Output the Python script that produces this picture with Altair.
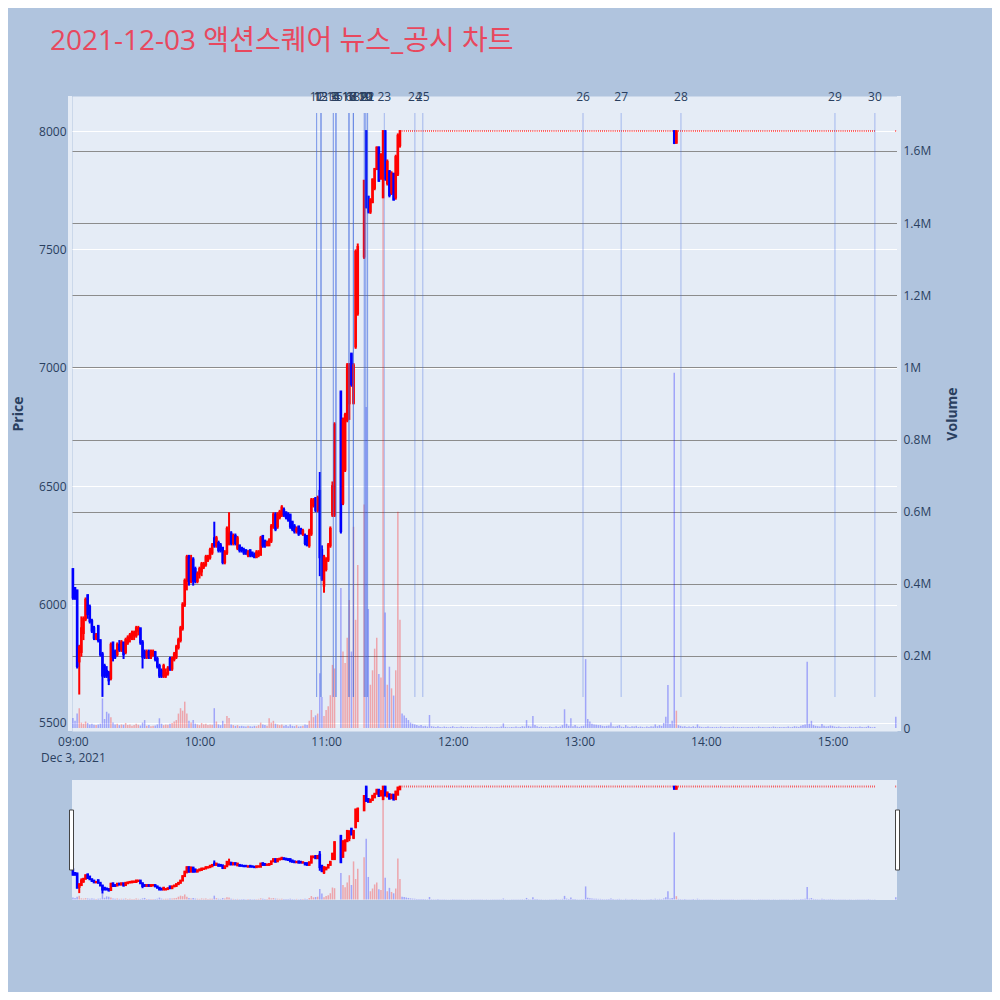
import altair as alt
import pandas as pd

TITLE = "2021-12-03 액션스퀘어 뉴스_공시 차트"
DATE = "2021-12-03"

# ---- traded minutes before the upper-limit lock (minutes after 09:00) ----
act_min = list(range(0, 125)) + list(range(127, 136)) + list(range(138, 156))
act_open = [
    6150, 6070, 6060, 5760, 5800, 5880, 5940, 6040, 5990, 5930,
    5900, 5860, 5910, 5850, 5790, 5740, 5720, 5710, 5690, 5840,
    5800, 5790, 5830, 5810, 5840, 5800, 5840, 5860, 5860, 5870,
    5870, 5890, 5900, 5840, 5800, 5780, 5800, 5780, 5790, 5800,
    5770, 5740, 5720, 5700, 5700, 5710, 5770, 5730, 5770, 5780,
    5820, 5850, 5900, 6000, 6100, 6200, 6100, 6190, 6150, 6100,
    6130, 6140, 6160, 6170, 6190, 6200, 6220, 6280, 6250, 6260,
    6250, 6240, 6180, 6220, 6260, 6300, 6260, 6290, 6240, 6250,
    6240, 6230, 6230, 6210, 6230, 6220, 6210, 6200, 6210, 6210,
    6290, 6270, 6250, 6250, 6270, 6330, 6380, 6330, 6370, 6380,
    6400, 6390, 6380, 6380, 6350, 6330, 6310, 6330, 6320, 6300,
    6290, 6290, 6250, 6300, 6420, 6450, 6400, 6480, 6230, 6080,
    6150, 6190, 6250, 6380, 6380,
    6900, 6430, 6570, 6780, 6850, 7060, 6850, 7090, 7230,
    7470, 8000, 7723, 7660, 7700, 7760, 7840, 7930, 7800, 7720,
    8000, 7780, 7830, 7740, 7820, 7720, 7820, 7940,
]
act_high = [
    6150, 6070, 6060, 5830, 5950, 5950, 6030, 6040, 6000, 5940,
    5910, 5880, 5910, 5850, 5800, 5750, 5740, 5720, 5840, 5840,
    5810, 5840, 5850, 5850, 5840, 5860, 5870, 5880, 5890, 5890,
    5910, 5910, 5900, 5850, 5810, 5810, 5810, 5810, 5810, 5800,
    5780, 5750, 5730, 5750, 5730, 5740, 5780, 5780, 5800, 5830,
    5860, 5910, 6010, 6110, 6210, 6210, 6210, 6200, 6160, 6140,
    6160, 6180, 6180, 6210, 6210, 6240, 6260, 6350, 6290, 6270,
    6260, 6240, 6230, 6330, 6390, 6310, 6300, 6300, 6290, 6250,
    6240, 6240, 6230, 6230, 6230, 6220, 6220, 6230, 6230, 6290,
    6290, 6270, 6270, 6280, 6340, 6390, 6390, 6390, 6400, 6420,
    6410, 6390, 6390, 6380, 6350, 6340, 6330, 6330, 6320, 6320,
    6300, 6290, 6320, 6450, 6450, 6450, 6460, 6560, 6250, 6210,
    6200, 6260, 6330, 6520, 6770,
    6900, 6790, 6810, 7020, 7020, 7060, 7020, 7500, 7525,
    7793, 8000, 7725, 7716, 7800, 7842, 7935, 7935, 7906, 8000,
    8000, 7880, 7835, 7830, 7821, 7900, 7990, 8000,
]
act_low = [
    6020, 6020, 5730, 5620, 5780, 5850, 5930, 5940, 5920, 5880,
    5850, 5850, 5840, 5780, 5610, 5690, 5690, 5660, 5680, 5760,
    5770, 5780, 5800, 5800, 5770, 5790, 5830, 5840, 5850, 5850,
    5860, 5870, 5830, 5730, 5770, 5770, 5770, 5770, 5780, 5760,
    5730, 5690, 5690, 5690, 5690, 5700, 5720, 5720, 5760, 5770,
    5810, 5840, 5890, 5990, 6060, 6080, 6090, 6080, 6090, 6090,
    6110, 6120, 6150, 6160, 6180, 6190, 6210, 6240, 6240, 6220,
    6220, 6170, 6170, 6210, 6250, 6250, 6250, 6250, 6230, 6220,
    6220, 6210, 6210, 6200, 6200, 6200, 6200, 6200, 6200, 6210,
    6240, 6240, 6250, 6250, 6260, 6320, 6310, 6320, 6360, 6370,
    6370, 6360, 6350, 6320, 6310, 6300, 6300, 6290, 6300, 6290,
    6250, 6250, 6240, 6290, 6410, 6390, 6390, 6120, 6100, 6050,
    6140, 6180, 6240, 6370, 6370,
    6300, 6420, 6560, 6770, 6780, 6920, 6850, 7080, 7220,
    7460, 7673, 7652, 7650, 7695, 7750, 7835, 7786, 7795, 7720,
    7790, 7770, 7720, 7730, 7708, 7710, 7810, 7930,
]
act_close = [
    6030, 6030, 5740, 5820, 5900, 5940, 6020, 5960, 5930, 5890,
    5860, 5870, 5850, 5790, 5700, 5700, 5700, 5680, 5830, 5780,
    5780, 5830, 5810, 5840, 5790, 5850, 5860, 5870, 5880, 5880,
    5900, 5900, 5840, 5780, 5780, 5800, 5780, 5800, 5800, 5770,
    5740, 5700, 5700, 5740, 5710, 5730, 5730, 5770, 5790, 5820,
    5850, 5900, 6000, 6100, 6200, 6100, 6190, 6100, 6100, 6130,
    6150, 6170, 6170, 6200, 6200, 6230, 6250, 6250, 6280, 6230,
    6230, 6180, 6220, 6320, 6300, 6260, 6290, 6260, 6280, 6230,
    6230, 6220, 6220, 6220, 6210, 6210, 6200, 6220, 6220, 6280,
    6250, 6250, 6260, 6270, 6330, 6380, 6320, 6380, 6390, 6410,
    6380, 6370, 6360, 6330, 6320, 6310, 6320, 6300, 6300, 6310,
    6260, 6250, 6310, 6440, 6440, 6400, 6450, 6200, 6110, 6200,
    6190, 6250, 6320, 6500, 6760,
    6310, 6780, 6800, 7010, 7000, 6930, 7010, 7490, 7510,
    7790, 7680, 7660, 7710, 7795, 7840, 7930, 7790, 7900, 8000,
    7800, 7870, 7730, 7820, 7710, 7890, 7980, 8000,
]
act_vol_k = [
    28, 20, 40, 55, 15, 12, 18, 14, 10, 12,
    9, 8, 10, 12, 82, 25, 45, 40, 30, 15,
    10, 12, 8, 10, 9, 14, 8, 10, 6, 8,
    12, 9, 7, 15, 22, 6, 8, 5, 6, 7,
    10, 27, 12, 8, 10, 9, 12, 14, 18, 22,
    40, 55, 48, 73, 40, 20, 15, 22, 12, 10,
    8, 14, 10, 12, 8, 10, 9, 55, 18, 10,
    8, 20, 12, 33, 28, 10, 8, 6, 8, 5,
    6, 5, 4, 6, 5, 4, 6, 5, 8, 15,
    10, 8, 6, 27, 15, 20, 12, 10, 8, 10,
    6, 8, 5, 10, 6, 5, 8, 4, 5, 6,
    10, 8, 20, 50, 30, 35, 40, 152, 86, 33,
    50, 60, 91, 175, 165,
    388, 212, 180, 250, 355, 212, 558, 300, 452,
    620, 890, 330, 120, 160, 220, 250, 150, 140, 1640,
    320, 120, 170, 110, 90, 160, 600, 300,
]

# ---- locked at the upper limit (8000) from 11:36 to 15:20 ----
lock_first, lock_last, lock_price = 156, 380, 8000
lock_vol_k = [
    40, 35, 28, 22, 15, 12, 10, 8, 6, 8, 5, 6, 4, 36, 5,
    4, 3, 5, 3, 2, 4, 3, 2, 3, 5, 2, 3, 2, 4, 3,
    2, 3, 2, 4, 2, 3, 2, 2, 3, 2, 4, 2, 3, 2, 2,
    3, 2, 4, 13, 3, 2, 2, 3, 2, 4, 2, 3, 5, 4, 22,
    6, 4, 33, 8, 5, 3, 4, 2, 3, 2, 4, 3, 2, 5, 3,
    4, 8, 52, 12, 6, 27, 5, 8, 4, 3, 5, 6, 191, 25, 18,
    12, 10, 9, 8, 8, 6, 5, 6, 7, 15, 5, 4, 6, 8, 4,
    3, 8, 4, 3, 5, 4, 6, 3, 4, 3, 2, 4, 3, 5, 4,
    10, 5, 8, 6, 14, 31, 119, 12, 20, 985, 48, 8, 6, 4, 5,
    3, 4, 3, 5, 3, 10, 4, 3, 2, 3, 4, 2, 3, 2, 3,
    2, 4, 2, 3, 2, 3, 2, 4, 2, 3, 2, 3, 2, 2, 3,
    2, 3, 2, 2, 4, 2, 3, 2, 2, 3, 2, 4, 3, 2, 3,
    2, 3, 2, 4, 2, 3, 5, 4, 3, 6, 8, 10, 184, 12, 20,
    8, 6, 5, 4, 11, 6, 4, 5, 7, 6, 4, 3, 4, 3, 2,
    3, 2, 4, 3, 2, 3, 2, 4, 3, 2, 3, 6, 3, 2, 3,
]
# the two minutes that briefly broke the lock
brk_min = [285, 286]
brk_open = [8000, 7950]
brk_high = [8000, 8000]
brk_low = [7945, 7950]
brk_close = [7950, 8000]
# closing auction
close_min, close_price, close_vol_k = 390, 8000, 31

# ---- news / disclosure markers ----
news_label = [str(i) for i in range(1, 31)]
news_time = [
    "10:55:30", "10:57:35", "11:03:25", "11:04:40", "11:04:40", "11:10:50",
    "11:12:55", "11:12:55", "11:18:05", "11:18:50", "10:55:30", "10:57:35",
    "10:57:35", "11:03:25", "11:04:40", "11:10:50", "11:10:50", "11:12:55",
    "11:18:05", "11:18:50", "11:19:40", "11:19:40", "11:27:35", "11:42:05",
    "11:45:50", "13:01:45", "13:19:50", "13:48:10", "15:01:10", "15:20:05",
]

price_ticks = [5500, 6000, 6500, 7000, 7500, 8000]
vol_ticks = [0, 200000, 400000, 600000, 800000, 1000000, 1200000, 1400000, 1600000]
hour_ticks = [9, 10, 11, 12, 13, 14, 15]


def ts(m):
    return f"{DATE}T{9 + m // 60:02d}:{m % 60:02d}:00"


rows = []
for i, m in enumerate(act_min):
    rows.append((m, act_open[i], act_high[i], act_low[i], act_close[i], act_vol_k[i]))
for i, m in enumerate(range(lock_first, lock_last + 1)):
    rows.append((m, lock_price, lock_price, lock_price, lock_price, lock_vol_k[i]))
rows.append((close_min, close_price, close_price, close_price, close_price, close_vol_k))
df = pd.DataFrame(rows, columns=["m", "o", "h", "l", "c", "vk"])
for i, m in enumerate(brk_min):
    sel = df["m"] == m
    df.loc[sel, ["o", "h", "l", "c"]] = [brk_open[i], brk_high[i], brk_low[i], brk_close[i]]
df = df.sort_values("m").reset_index(drop=True)
df["t"] = [ts(m) for m in df["m"]]
df["v"] = df["vk"] * 1000
prev = df["c"].shift(1).fillna(df["c"])
df["cdir"] = [
    "up" if c > o else ("down" if c < o else ("up" if c >= p else "down"))
    for o, c, p in zip(df["o"], df["c"], prev)
]
df["vdir"] = ["up" if c > o else "down" for o, c in zip(df["o"], df["c"])]

news = pd.DataFrame({"t": [f"{DATE}T{t}" for t in news_time], "label": news_label})

# ---------------- layout ----------------
W, H = 825, 635
FONT = "Open Sans"
TXT = "#2a3f5f"
P_DOM = [5466, 8148]
V_DOM = [-8300, 1752500]
S_TOP, S_BOT = 684, 804

xscale = alt.Scale(
    domain=[alt.DateTime(year=2021, month=12, date=3, hours=8, minutes=59, seconds=34),
            alt.DateTime(year=2021, month=12, date=3, hours=15, minutes=30, seconds=34)],
    nice=False, padding=0,
)
xaxis = alt.Axis(
    values=[alt.DateTime(year=2021, month=12, date=3, hours=h) for h in hour_ticks],
    labelExpr="hours(datum.value) == 9 ? [timeFormat(datum.value, '%H:%M'), 'Dec 3, 2021'] : timeFormat(datum.value, '%H:%M')",
    grid=False, domain=False, ticks=False, labelPadding=5, labelFontSize=12,
    labelColor=TXT, labelFlush=False, labelOverlap=False, labelLineHeight=16, title=None,
)
X = alt.X("t:T", scale=xscale, axis=xaxis)

pscale = alt.Scale(domain=P_DOM, nice=False, zero=False, padding=0)
vscale = alt.Scale(domain=V_DOM, nice=False, zero=False, padding=0)
pscale_s = alt.Scale(domain=P_DOM, nice=False, zero=False, padding=0, range=[S_BOT, S_TOP])
vscale_s = alt.Scale(domain=V_DOM, nice=False, zero=False, padding=0, range=[S_BOT, S_TOP])
cscale = alt.Scale(domain=["up", "down"], range=["#FF0000", "#0000FF"])

paxis = alt.Axis(
    values=price_ticks, format="d", grid=True, gridColor="white", gridWidth=1,
    domain=False, ticks=False, labelPadding=6, labelFontSize=12, labelColor=TXT,
    title="Price", titleFontSize=14, titleColor=TXT, titlePadding=13, titleFontWeight="bold",
)
vaxis = alt.Axis(
    orient="right", values=vol_ticks,
    labelExpr="datum.value == 0 ? '0' : format(datum.value / 1000000, '~g') + 'M'",
    grid=True, gridColor="#8c8c8c", gridWidth=1,
    gridOpacity={"condition": {"test": "datum.value === 0", "value": 0}, "value": 1},
    domain=False, ticks=False, labelPadding=6, labelFontSize=12, labelColor=TXT,
    title="Volume", titleFontSize=14, titleColor=TXT, titlePadding=15,
    titleAngle=270, titleBaseline="top", titleFontWeight="bold",
)

base = alt.Chart(df)
one = alt.Chart(pd.DataFrame({"k": [0]}))

side_l = one.mark_rect(fill="#E5ECF6").encode(
    x=alt.value(-4), x2=alt.value(0), y=alt.value(0), y2=alt.value(H))
side_r = one.mark_rect(fill="#E5ECF6").encode(
    x=alt.value(W), x2=alt.value(W + 4), y=alt.value(0), y2=alt.value(H))

wick = base.mark_rule(strokeWidth=2).encode(
    x=X, y=alt.Y("l:Q", scale=pscale, axis=paxis), y2="h:Q",
    color=alt.Color("cdir:N", scale=cscale, legend=None))
body = base.mark_bar(size=0.6, strokeWidth=2).encode(
    x=X, y=alt.Y("o:Q", scale=pscale, axis=None), y2="c:Q",
    fill=alt.Fill("cdir:N", scale=cscale, legend=None),
    stroke=alt.Stroke("cdir:N", scale=cscale, legend=None))
vol = base.mark_bar(size=1.5, opacity=0.3).encode(
    x=X, y=alt.Y("v:Q", scale=vscale, axis=vaxis),
    color=alt.Color("vdir:N", scale=cscale, legend=None))

news_rule = alt.Chart(news).mark_rule(color="royalblue", opacity=0.4, strokeWidth=1).encode(
    x=X, y=alt.value(17), y2=alt.value(601))
news_text = alt.Chart(news).mark_text(
    font=FONT, fontSize=12, color=TXT, baseline="middle", align="center").encode(
    x=X, y=alt.value(1), text="label:N")

# range slider
s_bg = one.mark_rect(fill="#E5ECF6").encode(
    x=alt.value(0), x2=alt.value(W), y=alt.value(S_TOP), y2=alt.value(S_BOT))
s_wick = base.mark_rule(strokeWidth=2).encode(
    x=X, y=alt.Y("l:Q", scale=pscale_s, axis=None), y2="h:Q",
    color=alt.Color("cdir:N", scale=cscale, legend=None))
s_body = base.mark_bar(size=0.6, strokeWidth=2).encode(
    x=X, y=alt.Y("o:Q", scale=pscale_s, axis=None), y2="c:Q",
    fill=alt.Fill("cdir:N", scale=cscale, legend=None),
    stroke=alt.Stroke("cdir:N", scale=cscale, legend=None))
s_vol = base.mark_bar(size=1.5, opacity=0.3).encode(
    x=X, y=alt.Y("v:Q", scale=vscale_s, axis=None),
    color=alt.Color("vdir:N", scale=cscale, legend=None))
h_l = one.mark_rect(fill="white", stroke="#444444", strokeWidth=1).encode(
    x=alt.value(-2.5), x2=alt.value(1.5), y=alt.value(S_TOP + 30), y2=alt.value(S_TOP + 90))
h_r = one.mark_rect(fill="white", stroke="#444444", strokeWidth=1).encode(
    x=alt.value(W - 1.5), x2=alt.value(W + 2.5), y=alt.value(S_TOP + 30), y2=alt.value(S_TOP + 90))

title = alt.Chart(pd.DataFrame({"title": [TITLE]})).mark_text(
    font="Open Sans, Noto Sans CJK KR", fontSize=28, color="#E8485E",
    align="left", baseline="alphabetic").encode(
    x=alt.value(-22), y=alt.value(-46), text="title:N")

chart = alt.layer(
    side_l, side_r, wick, body, vol, news_rule, news_text,
    s_bg, s_wick, s_body, s_vol, h_l, h_r, title,
).resolve_scale(y="independent").properties(
    width=W, height=H,
    padding={"left": 64, "top": 88, "right": 95, "bottom": 261},
    autosize=alt.AutoSizeParams(type="none"),
    background="#B0C4DE",
).configure(font=FONT).configure_view(fill="#E5ECF6", stroke="transparent")

chart.save("out.html", embed_options={"renderer": "svg", "actions": False})
